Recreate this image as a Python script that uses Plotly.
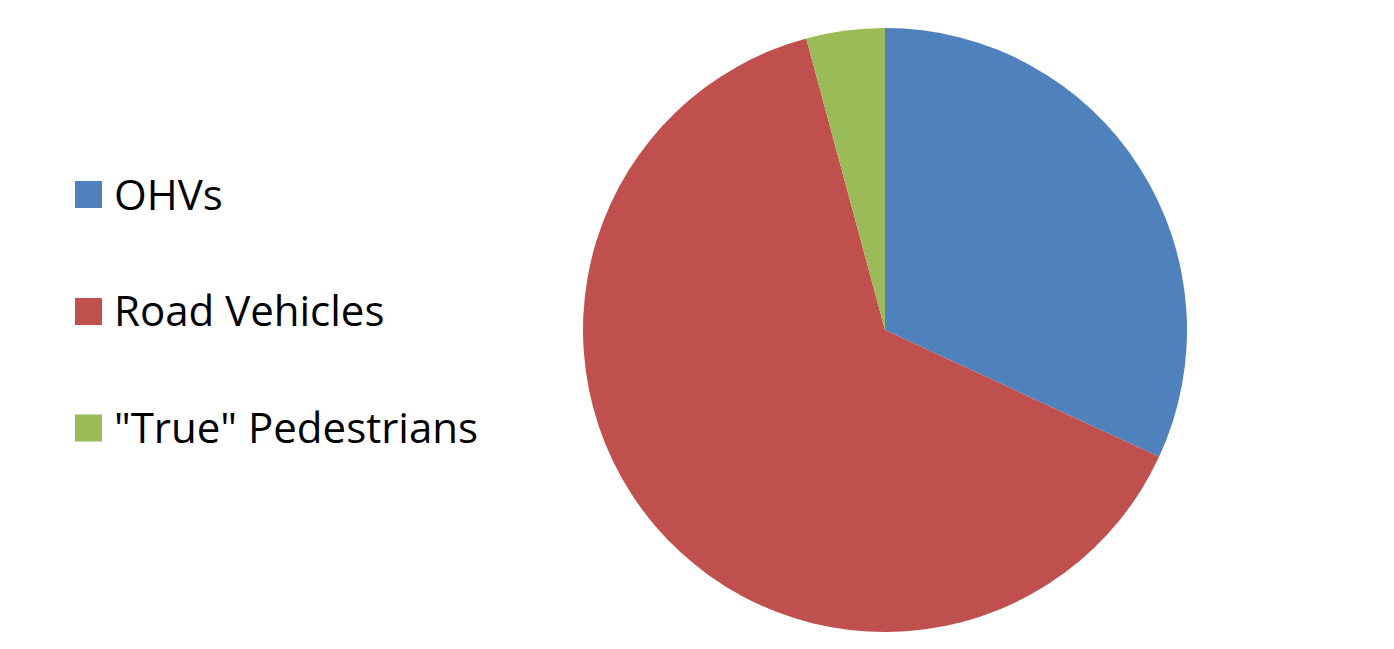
import plotly.graph_objects as go

# Share of each category (percent)
labels = ["OHVs", "Road Vehicles", "\"True\" Pedestrians"]
values = [31.9, 63.9, 4.2]
colors = ["#4F81BD", "#C0504D", "#9BBB59"]

W, H = 1394, 649

fig = go.Figure(
    go.Pie(
        labels=labels,
        values=values,
        sort=False,
        direction="clockwise",
        rotation=0,
        textinfo="none",
        hoverinfo="label+percent",
        marker=dict(colors=colors, line=dict(width=0)),
        domain=dict(x=[583 / W, 1187 / W], y=[1 - 632 / H, 1 - 28 / H]),
        showlegend=False,
    )
)

# Legend: coloured squares with labels, stacked on the left
legend_y = [194.5, 311.5, 428]
sq = 27
shapes = []
annotations = []
for lab, col, yc in zip(labels, colors, legend_y):
    shapes.append(dict(
        type="rect", xref="paper", yref="paper",
        x0=75 / W, x1=(75 + sq) / W,
        y0=1 - (yc + sq / 2) / H, y1=1 - (yc - sq / 2) / H,
        fillcolor=col, line=dict(width=0),
    ))
    annotations.append(dict(
        text=lab, xref="paper", yref="paper",
        x=112 / W, y=1 - (yc - 1.5) / H, xanchor="left", yanchor="middle",
        showarrow=False,
        font=dict(family="Open Sans, Liberation Sans, sans-serif", size=42, color="#000000"),
    ))

fig.update_layout(
    width=W, height=H,
    margin=dict(l=0, r=0, t=0, b=0),
    paper_bgcolor="white",
    plot_bgcolor="white",
    shapes=shapes,
    annotations=annotations,
)

fig.write_html("out.html")
